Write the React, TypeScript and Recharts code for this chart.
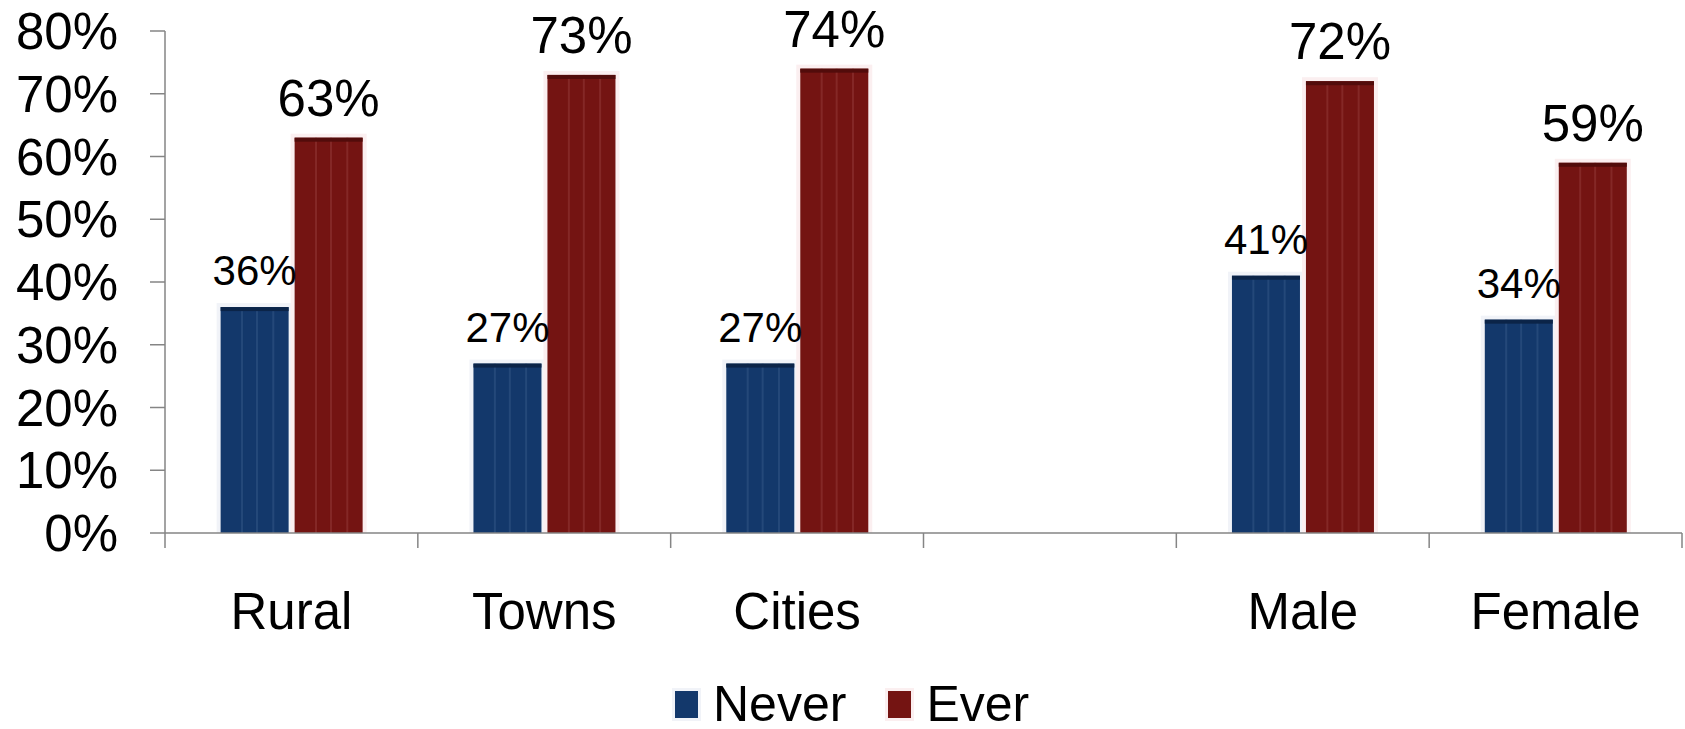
/* ── Never vs Ever grouped bar chart ── */

import { BarChart, Bar, XAxis, YAxis, LabelList, Legend } from "recharts";

if (typeof document !== "undefined") document.body.style.margin = "0";

const categories = ["Rural", "Towns", "Cities", "", "Male", "Female"];
const neverValues = [36, 27, 27, null, 41, 34];
const everValues = [63, 73, 74, null, 72, 59];
const yTicks = [0, 10, 20, 30, 40, 50, 60, 70, 80];

const W = 1685;
const H = 729;
const PLOT_LEFT = 165;
const PLOT_RIGHT = 3;
const FONT = "'Liberation Sans', Arial, sans-serif";
const AXIS = "#858585";

const data = categories.map((name, i) => ({
  name,
  never: neverValues[i],
  ever: everValues[i],
}));

const band = (W - PLOT_LEFT - PLOT_RIGHT) / categories.length;

function makeBar(main: string, stripe: string, edge: string, halo: string) {
  return function StripedBar(props: any) {
    const { x, y, width, height, value } = props;
    if (value == null || !height || height <= 0) return null;
    return (
      <g>
        <rect x={x - 4} y={y - 4} width={width + 8} height={height + 4} fill={halo} />
        <rect x={x} y={y} width={width} height={height} fill={main} />
        {[0.3, 0.52, 0.76].map((f) => (
          <rect key={f} x={x + width * f} y={y} width={2} height={height} fill={stripe} opacity={0.45} />
        ))}
        <rect x={x} y={y} width={width} height={4} fill={edge} />
      </g>
    );
  };
}

const NeverBar = makeBar("#13386b", "#3a5d8c", "#0b2448", "#f1f3f8");
const EverBar = makeBar("#741412", "#9a4040", "#520c0b", "#fbeff0");

function CategoryTick(props: any) {
  const { x, y, payload, index } = props;
  const left = x - band / 2;
  return (
    <g>
      <line x1={left} y1={y - 15} x2={left} y2={y} stroke={AXIS} strokeWidth={1.5} />
      {index === categories.length - 1 && (
        <line x1={left + band} y1={y - 15} x2={left + band} y2={y} stroke={AXIS} strokeWidth={1.5} />
      )}
      <text x={x} y={y + 81} textAnchor="middle" fontSize={51} fontFamily={FONT} fill="#000">
        {payload.value}
      </text>
    </g>
  );
}

function valueLabel(size: number) {
  return function Lbl(props: any) {
    const { x, y, width, value } = props;
    if (value == null) return null;
    return (
      <text x={x + width / 2} y={y - 22} textAnchor="middle" fontSize={size} fontFamily={FONT} fill="#000">
        {`${value}%`}
      </text>
    );
  };
}

function LegendContent() {
  const items = [
    { label: "Never", color: "#13386b", halo: "#f1f3f8" },
    { label: "Ever", color: "#741412", halo: "#fbeff0" },
  ];
  return (
    <div style={{ display: "flex", alignItems: "center", marginLeft: 675, fontFamily: FONT, fontSize: 50, lineHeight: "42px", height: 42 }}>
      {items.map((it, i) => (
        <div key={it.label} style={{ display: "flex", alignItems: "center", marginLeft: i ? 42 : 0, height: 42 }}>
          <span
            style={{
              display: "block",
              width: 23,
              height: 27,
              background: it.color,
              boxShadow: `0 0 0 3px ${it.halo}`,
              marginRight: 15,
            }}
          />
          <span style={{ display: "block", height: 42, color: "#000", overflow: "visible" }}>{it.label}</span>
        </div>
      ))}
    </div>
  );
}

export default function App() {
  return (
    <BarChart
      width={W}
      height={H}
      data={data}
      margin={{ top: 31, right: PLOT_RIGHT, left: 0, bottom: 0 }}
      barCategoryGap="22%"
      barGap={6}
    >
      <XAxis
        dataKey="name"
        height={196}
        tickSize={15}
        tickMargin={0}
        tickLine={false}
        axisLine={{ stroke: AXIS, strokeWidth: 1.5 }}
        tick={<CategoryTick />}
        interval={0}
      />
      <YAxis
        width={PLOT_LEFT}
        domain={[0, 80]}
        ticks={yTicks}
        tickSize={15}
        tickMargin={32}
        tickLine={{ stroke: AXIS, strokeWidth: 1.5 }}
        axisLine={{ stroke: AXIS, strokeWidth: 1.5 }}
        tickFormatter={(v: number) => `${v}%`}
        tick={{ fontSize: 51, fill: "#000", fontFamily: FONT }}
        interval={0}
      />
      <Legend
        verticalAlign="middle"
        align="center"
        layout="horizontal"
        content={<LegendContent />}
        wrapperStyle={{ top: 683, left: 0, width: W, height: 42 }}
      />
      <Bar dataKey="never" name="Never" shape={NeverBar} isAnimationActive={false}>
        <LabelList dataKey="never" content={valueLabel(42)} />
      </Bar>
      <Bar dataKey="ever" name="Ever" shape={EverBar} isAnimationActive={false}>
        <LabelList dataKey="ever" content={valueLabel(51)} />
      </Bar>
    </BarChart>
  );
}
